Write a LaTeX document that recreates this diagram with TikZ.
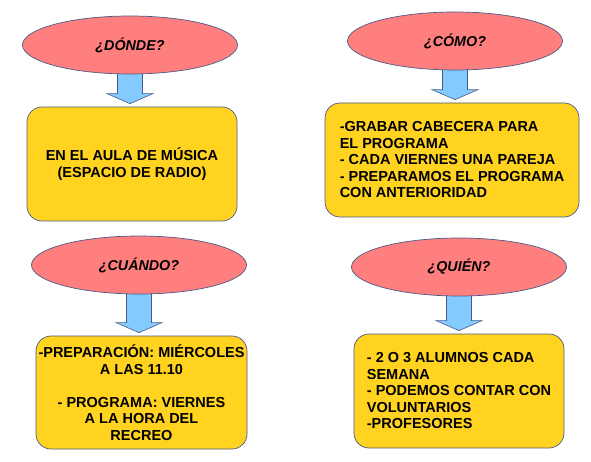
\documentclass[tikz,border=0pt]{standalone}
\usepackage{fontspec}
\setmainfont{Liberation Sans}
\usetikzlibrary{shapes.geometric,backgrounds,calc}

\definecolor{rosa}{HTML}{FF7F7F}
\definecolor{oro}{HTML}{FFD320}
\definecolor{celeste}{HTML}{83CAFF}
\definecolor{borde}{HTML}{4A5A86}

% flecha gruesa de una pregunta a su cuadro
\newcommand{\flechabloque}[2]{%
  \begin{pgfonlayer}{background}
  \draw[flecha] let \p1=(#1.south), \p2=(#2.north) in
    (\x1-12.5pt,\y1+2pt) -- (\x1-12.5pt,\y2+13pt) -- (\x1-23pt,\y2+13pt) -- (\x1,\y2+3pt)
    -- (\x1+23pt,\y2+13pt) -- (\x1+12.5pt,\y2+13pt) -- (\x1+12.5pt,\y1+2pt) -- cycle;
  \end{pgfonlayer}}

\begin{document}
\begin{tikzpicture}[
  x=1pt, y=-1pt,
  pregunta/.style={ellipse, draw=borde, line width=0.7pt, fill=rosa, minimum width=215pt, minimum height=58pt,
    inner sep=0pt, font=\fontsize{14.3}{16}\selectfont\bfseries\itshape},
  cuadro/.style={draw=borde, line width=0.7pt, fill=oro, rounded corners=15pt, minimum height=114pt,
    inner sep=0pt, font=\fontsize{14.5}{16.5}\selectfont\bfseries},
  flecha/.style={draw=borde, line width=0.6pt, fill=celeste}
]
\useasboundingbox (0,0) rectangle (591,462);

\node[pregunta] (donde) at (130,45) {¿DÓNDE?};
\node[cuadro, minimum width=210pt, align=center] (aula) at (132,164)
  {EN EL AULA DE MÚSICA\\(ESPACIO DE RADIO)};

\node[pregunta] (como) at (455,41) {¿CÓMO?};
\node[cuadro, minimum width=254pt, align=left] (grabar) at (452,160)
  {-GRABAR CABECERA PARA\\EL PROGRAMA\\- CADA VIERNES UNA PAREJA\\- PREPARAMOS EL PROGRAMA\\CON ANTERIORIDAD};

\node[pregunta] (cuando) at (139,265) {¿CUÁNDO?};
\node[cuadro, minimum width=211pt, minimum height=113pt, align=center] (horario) at (141.5,392.5)
  {-PREPARACIÓN: MIÉRCOLES\\A LAS 11.10\\[16.5pt]- PROGRAMA: VIERNES\\A LA HORA DEL\\RECREO};

\node[pregunta] (quien) at (459,267) {¿QUIÉN?};
\node[cuadro, minimum width=210pt, align=left] (alumnos) at (459,391)
  {- 2 O 3 ALUMNOS CADA\\SEMANA\\- PODEMOS CONTAR CON\\VOLUNTARIOS\\-PROFESORES};

\flechabloque{donde}{aula}
\flechabloque{como}{grabar}
\flechabloque{cuando}{horario}
\flechabloque{quien}{alumnos}
\end{tikzpicture}
\end{document}
